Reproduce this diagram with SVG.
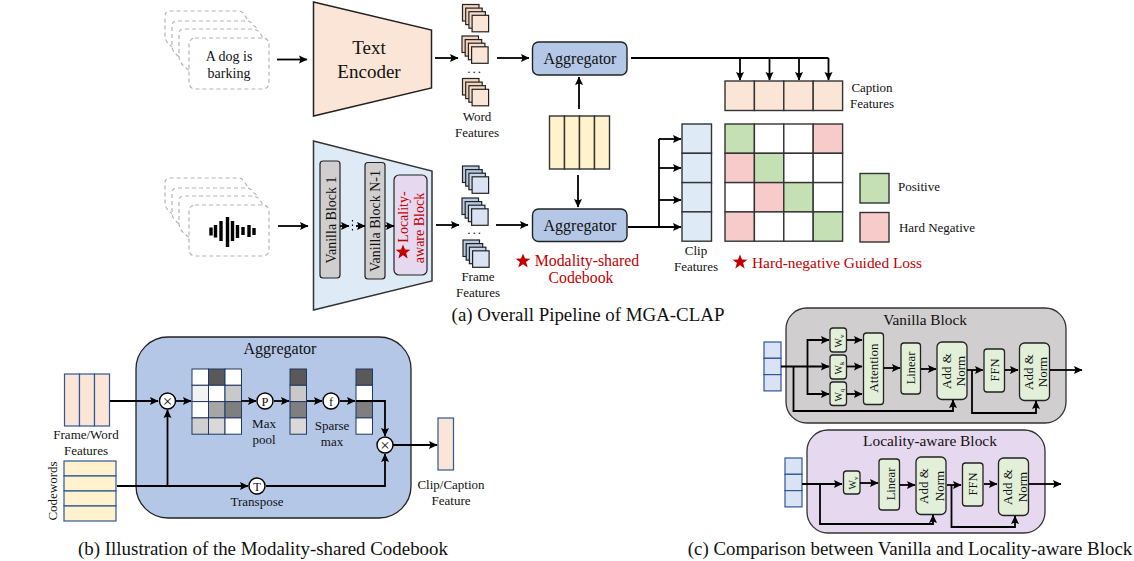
<svg xmlns="http://www.w3.org/2000/svg" width="1134" height="561" viewBox="0 0 1134 561">
<style>
text{font-family:"Liberation Serif","Times New Roman",serif;fill:#111;text-anchor:middle}
.s13{font-size:13px}.s12{font-size:12.5px}.s16{font-size:16px}.s19{font-size:19px}.s14{font-size:14px}.cap{font-size:18.900px}
.red{fill:#c00000}.rs{font-size:15.800px}.rs2{font-size:15.400px}
.dash{fill:#fff;stroke:#b5b5b5;stroke-width:1.2;stroke-dasharray:4 3}
.l{fill:none;stroke:#000;stroke-width:1.8;marker-end:url(#a)}
.n{fill:none;stroke:#000;stroke-width:1.8}
.peach{fill:#fbe5d6;stroke:#333;stroke-width:1.4}
.pale{fill:#deebf7;stroke:#333;stroke-width:1.4}
.yellow{fill:#fff2cc;stroke:#333;stroke-width:1.4}
.agg{fill:#b4c7e7;stroke:#222;stroke-width:1.4}
.g{fill:#e2efd9;stroke:#222;stroke-width:1.3}
.navy{stroke:#2f5597;stroke-width:1.2}
.c{fill:#fff;stroke:#000;stroke-width:1.4}
.cell{stroke:#333;stroke-width:1.4;fill:#fff}
.cb{stroke:#1f3864;stroke-width:1;fill:#fff}
.gr{fill:#c5e0b4}.pk{fill:#f8cbcb}
.dots{font-size:13px;letter-spacing:2px}
.w{font-size:10px}
</style>
<defs>
<marker id="a" markerUnits="userSpaceOnUse" markerWidth="10" markerHeight="9" refX="8" refY="4.500" orient="auto"><path d="M0 0.500L8.500 4.500L0 8.500L1.500 4.500Z" fill="#000"/></marker>
<g id="stackP"><rect x="0" y="0" width="16.500" height="16.500" fill="#f4d4bd" stroke="#222" stroke-width="1.200"/><rect x="3.200" y="3.600" width="16.500" height="16.500" fill="#f4d4bd" stroke="#222" stroke-width="1.200"/><rect x="6.400" y="7.200" width="16.500" height="16.500" fill="#f8dcc8" stroke="#222" stroke-width="1.200"/><rect x="9.600" y="10.800" width="16.500" height="16.500" fill="#fbe5d6" stroke="#222" stroke-width="1.200"/></g>
<g id="stackB"><rect x="0" y="0" width="16.500" height="16.500" fill="#b8c9e2" stroke="#222" stroke-width="1.200"/><rect x="3.200" y="3.600" width="16.500" height="16.500" fill="#b8c9e2" stroke="#222" stroke-width="1.200"/><rect x="6.400" y="7.200" width="16.500" height="16.500" fill="#c8d6ea" stroke="#222" stroke-width="1.200"/><rect x="9.600" y="10.800" width="16.500" height="16.500" fill="#d9e3f3" stroke="#222" stroke-width="1.200"/></g>
<g id="docs">
<path class="dash" d="M179 51 Q165 44 165 36V16Q165 11 170 11H238Q243 11 245 16L249 21"/>
<path class="dash" d="M185 60 Q172 54 172 46V26Q172 21 177 21H246Q251 21 253 25L258 29"/>
<path class="dash" d="M189 70 Q179 64 179 56V34Q179 29 184 29H252Q257 29 260 33L263 38"/>
<rect class="dash" x="189" y="38" width="80" height="51" rx="6"/>
</g>
<path id="star" d="M0 -7.500L2 -2.400L7.400 -2.300L3.100 1L4.700 6.400L0 3.300L-4.700 6.400L-3.100 1L-7.400 -2.300L-2 -2.400Z" fill="#c00000"/>
</defs>

<g id="text-docs"><use href="#docs"/><text class="s14" x="229" y="61">A dog is</text><text class="s14" x="229" y="78">barking</text></g>
<g id="audio-docs"><use href="#docs" y="167"/>
<path d="M211 227.500V235.500M215.500 225V237.500M221 221V241M227.500 217V247M232.500 221V241M237.500 225V238M243 227V235M249 225V237M254 228V235" stroke="#000" stroke-width="3.400" fill="none"/></g>

<g id="text-encoder"><polygon points="313.500,2 431.500,30 431.500,88 313.500,116" fill="#fbe5d6" stroke="#222" stroke-width="1.500"/><text class="s19" x="369" y="54">Text</text><text class="s19" x="369" y="78">Encoder</text></g>
<g id="audio-encoder"><polygon points="313.500,141 432,171 432,281 313.500,310" fill="#deebf7" stroke="#333" stroke-width="1.500"/></g>
<g id="vanilla-1"><rect x="320" y="161" width="20" height="117" rx="3" fill="#d0cece" stroke="#222" stroke-width="1.200"/><text class="s14" transform="translate(335.500,220) rotate(-90)">Vanilla Block 1</text></g>
<g id="vanilla-n"><rect x="365" y="162.500" width="20" height="116.500" rx="3" fill="#d0cece" stroke="#222" stroke-width="1.200"/><text class="s14" transform="translate(380,221) rotate(-90)">Vanilla Block N-1</text></g>
<g id="locality-small"><rect x="394" y="175" width="33" height="100" rx="5" fill="#e6d8ee" stroke="#222" stroke-width="1.200"/><use href="#star" transform="translate(403,252)"/><text class="s14 red" transform="translate(407.500,217) rotate(-90)">Locality-</text><text class="s14 red" transform="translate(423.500,228) rotate(-90)">aware Block</text></g>

<g id="word-features"><use href="#stackP" x="462.500" y="4.500"/><use href="#stackP" x="462" y="36"/><text class="dots" x="475" y="73">...</text><use href="#stackP" x="462.500" y="78.500"/><text class="s13" x="477" y="121">Word</text><text class="s13" x="477" y="137">Features</text></g>
<g id="frame-features"><use href="#stackB" x="462.500" y="166"/><use href="#stackB" x="462" y="198"/><text class="dots" x="475" y="234">...</text><use href="#stackB" x="463" y="240"/><text class="s13" x="478" y="281">Frame</text><text class="s13" x="478" y="297">Features</text></g>

<g id="aggregator-top"><rect class="agg" x="532.500" y="42" width="94.500" height="33" rx="6"/><text class="s16" x="580" y="64">Aggregator</text></g>
<g id="aggregator-bottom"><rect class="agg" x="532.500" y="209" width="94.500" height="32.500" rx="6"/><text class="s16" x="580" y="231">Aggregator</text></g>
<g id="codebook"><rect class="yellow" x="549.500" y="116" width="15" height="53"/><rect class="yellow" x="564.500" y="116" width="15" height="53"/><rect class="yellow" x="579.500" y="116" width="15" height="53"/><rect class="yellow" x="594.500" y="116" width="15" height="53"/><use href="#star" transform="translate(523,261)"/><text class="rs red" x="587" y="266">Modality-shared</text><text class="rs red" x="581" y="283">Codebook</text></g>

<g id="caption-features"><rect class="peach" x="725" y="81" width="29.400" height="29.500"/><rect class="peach" x="754.400" y="81" width="29.400" height="29.500"/><rect class="peach" x="783.800" y="81" width="29.400" height="29.500"/><rect class="peach" x="813.200" y="81" width="29.400" height="29.500"/><text class="s13" x="872" y="92">Caption</text><text class="s13" x="872" y="108">Features</text></g>
<g id="clip-features"><rect class="pale" x="682" y="124" width="29.500" height="29.300"/><rect class="pale" x="682" y="153.300" width="29.500" height="29.300"/><rect class="pale" x="682" y="182.600" width="29.500" height="29.300"/><rect class="pale" x="682" y="211.900" width="29.500" height="29.300"/><text class="s13" x="696" y="255">Clip</text><text class="s13" x="696" y="271">Features</text></g>
<g id="matrix">
<rect class="cell gr" x="725" y="124" width="29.400" height="29.300"/><rect class="cell" x="754.400" y="124" width="29.400" height="29.300"/><rect class="cell" x="783.800" y="124" width="29.400" height="29.300"/><rect class="cell pk" x="813.200" y="124" width="29.400" height="29.300"/>
<rect class="cell pk" x="725" y="153.300" width="29.400" height="29.300"/><rect class="cell gr" x="754.400" y="153.300" width="29.400" height="29.300"/><rect class="cell" x="783.800" y="153.300" width="29.400" height="29.300"/><rect class="cell" x="813.200" y="153.300" width="29.400" height="29.300"/>
<rect class="cell" x="725" y="182.600" width="29.400" height="29.300"/><rect class="cell pk" x="754.400" y="182.600" width="29.400" height="29.300"/><rect class="cell gr" x="783.800" y="182.600" width="29.400" height="29.300"/><rect class="cell" x="813.200" y="182.600" width="29.400" height="29.300"/>
<rect class="cell pk" x="725" y="211.900" width="29.400" height="29.300"/><rect class="cell" x="754.400" y="211.900" width="29.400" height="29.300"/><rect class="cell" x="783.800" y="211.900" width="29.400" height="29.300"/><rect class="cell gr" x="813.200" y="211.900" width="29.400" height="29.300"/>
<use href="#star" transform="translate(740,262)"/><text class="rs2 red" x="837" y="268">Hard-negative Guided Loss</text></g>
<g id="legend-positive"><rect class="cell gr" x="860" y="173.500" width="29" height="29.500"/><text class="s13" x="919" y="191">Positive</text></g>
<g id="legend-negative"><rect class="cell pk" x="860" y="212.500" width="29" height="29.500"/><text class="s13" x="937" y="232">Hard Negative</text></g>
<text class="cap" x="588" y="321">(a) Overall Pipeline of MGA-CLAP</text>

<g id="aggregator-panel"><rect x="136" y="337" width="275" height="181" rx="32" fill="#b4c7e7" stroke="#222" stroke-width="1.300"/><text class="s16" x="280" y="354">Aggregator</text></g>
<g id="frame-word"><rect class="peach navy" x="64.500" y="374" width="15" height="52"/><rect class="peach navy" x="79.500" y="374" width="15" height="52"/><rect class="peach navy" x="94.500" y="374" width="15" height="52"/><text class="s13" x="86" y="439">Frame/Word</text><text class="s13" x="86" y="455">Features</text></g>
<g id="codewords"><rect class="yellow navy" x="64" y="461" width="52" height="15"/><rect class="yellow navy" x="64" y="476" width="52" height="15"/><rect class="yellow navy" x="64" y="491" width="52" height="15"/><rect class="yellow navy" x="64" y="506" width="52" height="15"/><text class="s13" transform="translate(57,491) rotate(-90)">Codewords</text></g>
<g id="sim-matrix">
<rect class="cb" x="192" y="369" width="16.500" height="16.300"/><rect class="cb" x="208.500" y="369" width="16.500" height="16.300" style="fill:#595959"/><rect class="cb" x="225" y="369" width="16.500" height="16.300"/>
<rect class="cb" x="192" y="385.300" width="16.500" height="16.300" style="fill:#f2f2f2"/><rect class="cb" x="208.500" y="385.300" width="16.500" height="16.300"/><rect class="cb" x="225" y="385.300" width="16.500" height="16.300" style="fill:#c9c9c9"/>
<rect class="cb" x="192" y="401.600" width="16.500" height="16.300"/><rect class="cb" x="208.500" y="401.600" width="16.500" height="16.300" style="fill:#a6a6a6"/><rect class="cb" x="225" y="401.600" width="16.500" height="16.300" style="fill:#7f7f7f"/>
<rect class="cb" x="192" y="417.900" width="16.500" height="16.300" style="fill:#d0d0d0"/><rect class="cb" x="208.500" y="417.900" width="16.500" height="16.300" style="fill:#d9d9d9"/><rect class="cb" x="225" y="417.900" width="16.500" height="16.300"/>
</g>
<g id="pooled"><rect class="cb" x="290" y="369" width="16.500" height="16.300" style="fill:#595959"/><rect class="cb" x="290" y="385.300" width="16.500" height="16.300" style="fill:#c9c9c9"/><rect class="cb" x="290" y="401.600" width="16.500" height="16.300" style="fill:#7f7f7f"/><rect class="cb" x="290" y="417.900" width="16.500" height="16.300" style="fill:#d9d9d9"/></g>
<g id="sparse"><rect class="cb" x="356" y="369" width="16.500" height="16.300" style="fill:#595959"/><rect class="cb" x="356" y="385.300" width="16.500" height="16.300"/><rect class="cb" x="356" y="401.600" width="16.500" height="16.300" style="fill:#7f7f7f"/><rect class="cb" x="356" y="417.900" width="16.500" height="16.300"/></g>
<g id="clip-caption"><rect class="peach navy" x="438" y="418" width="15.500" height="52"/><text class="s13" x="451" y="489">Clip/Caption</text><text class="s13" x="451" y="505">Feature</text></g>
<text class="cap" x="263" y="555">(b) Illustration of the Modality-shared Codebook</text>

<g id="vanilla-panel"><rect x="786" y="308" width="280" height="115" rx="21" fill="#d0cece" stroke="#333" stroke-width="1.300"/><text style="font-size:15.300px" x="925" y="325">Vanilla Block</text></g>
<g id="v-input"><rect class="pale navy" x="764" y="342" width="17" height="16.300" style="fill:#dae3f3"/><rect class="pale navy" x="764" y="358.300" width="17" height="16.300" style="fill:#dae3f3"/><rect class="pale navy" x="764" y="374.600" width="17" height="16.300" style="fill:#dae3f3"/></g>
<g id="wv"><rect class="g" x="830" y="328" width="16.500" height="24" rx="3"/><text class="w" transform="translate(842,341) rotate(-90)">W<tspan font-size="7" dy="1.500">v</tspan></text></g>
<g id="wk"><rect class="g" x="830" y="355" width="16.500" height="24" rx="3"/><text class="w" transform="translate(842,368) rotate(-90)">W<tspan font-size="7" dy="1.500">k</tspan></text></g>
<g id="wq"><rect class="g" x="830" y="382" width="16.500" height="23.500" rx="3"/><text class="w" transform="translate(842,395) rotate(-90)">W<tspan font-size="7" dy="1.500">q</tspan></text></g>
<g id="attention"><rect class="g" x="863.500" y="333" width="20" height="71.500" rx="3"/><text class="s13" transform="translate(878,368) rotate(-90)">Attention</text></g>
<g id="v-linear"><rect class="g" x="901" y="343" width="19.500" height="51" rx="3"/><text class="s12" transform="translate(915,368) rotate(-90)">Linear</text></g>
<g id="v-addnorm1"><rect class="g" x="937" y="342" width="30" height="57.500" rx="5"/><text class="s13" transform="translate(951,371) rotate(-90)">Add &amp;</text><text class="s13" transform="translate(964.500,371) rotate(-90)">Norm</text></g>
<g id="v-ffn"><rect class="g" x="984" y="349" width="20.500" height="43" rx="3"/><text class="s12" transform="translate(998.500,370) rotate(-90)">FFN</text></g>
<g id="v-addnorm2"><rect class="g" x="1019.500" y="343" width="30" height="57.500" rx="5"/><text class="s13" transform="translate(1033,372) rotate(-90)">Add &amp;</text><text class="s13" transform="translate(1046.500,372) rotate(-90)">Norm</text></g>

<g id="locality-panel"><rect x="807" y="430" width="238" height="103" rx="21" fill="#e6d8ee" stroke="#333" stroke-width="1.300"/><text style="font-size:15.400px" x="930" y="446">Locality-aware Block</text></g>
<g id="l-input"><rect class="pale navy" x="785" y="458" width="17" height="16.300" style="fill:#dae3f3"/><rect class="pale navy" x="785" y="474.300" width="17" height="16.300" style="fill:#dae3f3"/><rect class="pale navy" x="785" y="490.600" width="17" height="16.300" style="fill:#dae3f3"/></g>
<g id="l-wv"><rect class="g" x="843.500" y="471" width="16.500" height="23" rx="3"/><text class="w" transform="translate(856,483) rotate(-90)">W<tspan font-size="7" dy="1.500">v</tspan></text></g>
<g id="l-linear"><rect class="g" x="879" y="459" width="20.500" height="51" rx="3"/><text class="s12" transform="translate(895,484) rotate(-90)">Linear</text></g>
<g id="l-addnorm1"><rect class="g" x="916" y="457" width="30" height="57.500" rx="5"/><text class="s13" transform="translate(928,486) rotate(-90)">Add &amp;</text><text class="s13" transform="translate(944,486) rotate(-90)">Norm</text></g>
<g id="l-ffn"><rect class="g" x="962.500" y="463" width="20.500" height="43" rx="3"/><text class="s12" transform="translate(977,484) rotate(-90)">FFN</text></g>
<g id="l-addnorm2"><rect class="g" x="998.500" y="458" width="30" height="57.500" rx="5"/><text class="s13" transform="translate(1012,487) rotate(-90)">Add &amp;</text><text class="s13" transform="translate(1027,487) rotate(-90)">Norm</text></g>
<text class="cap" x="910" y="555">(c) Comparison between Vanilla and Locality-aware Block</text>

<g id="connectors">
<path class="l" d="M277 59.500H307"/><path class="l" d="M435 58H458"/><path class="l" d="M497 58H529"/>
<path class="l" d="M278 226H308"/><path class="l" d="M436 225H459"/><path class="l" d="M496 225H528"/>
<path class="l" d="M340 226H349"/><path class="l" d="M356 226H365"/><path class="l" d="M385 226H394"/>
<path d="M352.500 220V233" stroke="#000" stroke-width="1.200" stroke-dasharray="1.500 3"/>
<path class="l" d="M579 109V77"/><path class="l" d="M578 175V207"/>
<path class="n" d="M631 58H828.500"/><path class="l" d="M740 58V80"/><path class="l" d="M769.500 58V80"/><path class="l" d="M799 58V80"/><path class="l" d="M828.500 58V80"/>
<path class="l" d="M628 227H681"/><path class="n" d="M659 227V139"/><path class="l" d="M659 139H681"/><path class="l" d="M659 168H681"/><path class="l" d="M659 200H681"/>
<path class="l" d="M110 401H158"/><path class="l" d="M176 401H191"/><path class="l" d="M241 401H256"/><path class="l" d="M274 401H289"/><path class="l" d="M307 401H322"/><path class="l" d="M340 401H355"/>
<path class="l" d="M356 401H385V436"/><path class="l" d="M117 486H248"/><path class="l" d="M167.500 486V410"/>
<path class="l" d="M266 486H385V454"/><path class="l" d="M393 445H437"/>
<path class="l" d="M781 366.500H829"/><path class="l" d="M807.500 366.500V340H829"/><path class="l" d="M807.500 366.500V394H829"/>
<path class="l" d="M847 340H862"/><path class="l" d="M847 366.500H862"/><path class="l" d="M847 394H862"/>
<path class="l" d="M884 368H900"/><path class="l" d="M921 369H936"/><path class="l" d="M967 370H983"/><path class="l" d="M1005 370H1018"/><path class="l" d="M1050 370H1082"/>
<path class="l" d="M793.500 366.500V411H953V400"/><path class="l" d="M972 370V413H1036V401"/>
<path class="l" d="M802 484H842"/><path class="l" d="M860 483H878"/><path class="l" d="M900 485H915"/><path class="l" d="M947 485H961"/><path class="l" d="M984 484H997"/><path class="l" d="M1029 484H1061"/>
<path class="l" d="M820 484V524H933V515"/><path class="l" d="M951.500 485V527H1015V516"/>
</g>

<g id="op-cross1"><circle class="c" cx="167.500" cy="401" r="8"/><text style="font-size:17px" x="167.500" y="406.500">×</text></g>
<g id="op-p"><circle class="c" cx="265" cy="401" r="8"/><text class="s12" x="265" y="405.500">P</text></g>
<g id="op-f"><circle class="c" cx="331" cy="401" r="8"/><text class="s12" x="331" y="405.500">f</text></g>
<g id="op-cross2"><circle class="c" cx="385" cy="445" r="8"/><text style="font-size:17px" x="385" y="450.500">×</text></g>
<g id="op-t"><circle class="c" cx="257" cy="486" r="8"/><text class="s12" x="257" y="490.500">T</text></g>
<text class="s13" x="264" y="428">Max</text><text class="s13" x="264" y="444">pool</text>
<text class="s13" x="332" y="430">Sparse</text><text class="s13" x="332" y="446">max</text>
<text class="s13" x="257" y="506">Transpose</text>
</svg>
